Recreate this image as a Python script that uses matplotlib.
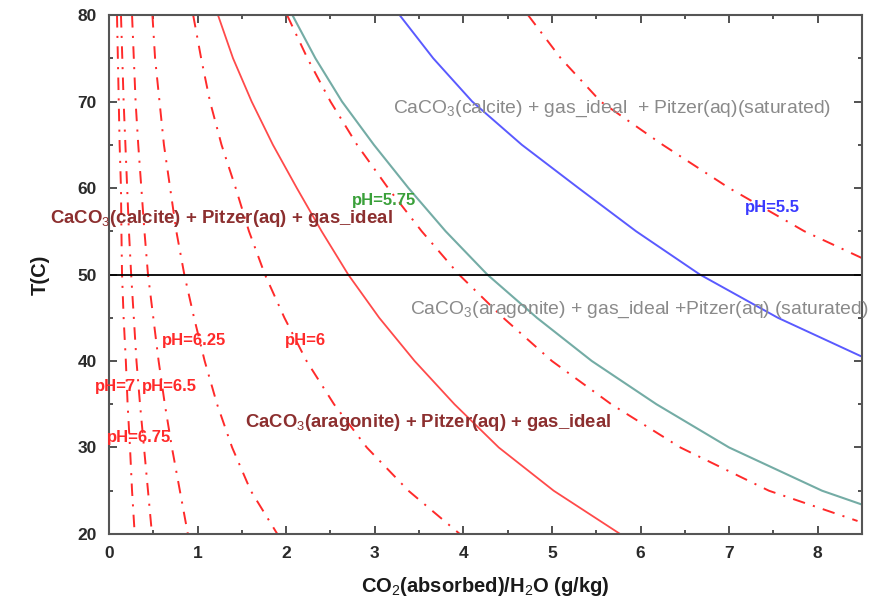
import matplotlib
matplotlib.use("Agg")
import matplotlib.pyplot as plt
from matplotlib.ticker import MultipleLocator

plt.rcParams["font.family"] = ["Liberation Sans", "DejaVu Sans"]
plt.rcParams["mathtext.fontset"] = "custom"
plt.rcParams["mathtext.rm"] = "Liberation Sans"
plt.rcParams["mathtext.it"] = "Liberation Sans"
plt.rcParams["mathtext.bf"] = "Liberation Sans:bold"
plt.rcParams["lines.scale_dashes"] = False

# Isopleths: CO2 absorbed (g/kg H2O) versus temperature (C)
T_full = [80, 75, 70, 65, 60, 55, 50, 45, 40, 35, 30, 25, 20]
ph70_x = [0.09, 0.10, 0.11, 0.12, 0.135, 0.14, 0.147, 0.165, 0.19, 0.21, 0.237, 0.26, 0.29]
ph675_x = [0.135, 0.15, 0.165, 0.185, 0.205, 0.225, 0.25, 0.28, 0.31, 0.35, 0.395, 0.44, 0.485]
ph65_x = [0.26, 0.28, 0.30, 0.33, 0.365, 0.40, 0.44, 0.50, 0.56, 0.63, 0.71, 0.80, 0.89]
ph625_x = [0.49, 0.52, 0.57, 0.62, 0.69, 0.76, 0.85, 0.96, 1.08, 1.22, 1.39, 1.60, 1.90]
ph60_x = [0.95, 1.04, 1.14, 1.27, 1.43, 1.58, 1.76, 1.98, 2.23, 2.54, 2.91, 3.38, 3.96]

ph575_T = [80, 75, 70, 65, 60, 55, 50, 45, 40, 35, 30, 25, 21.5]
ph575_x = [2.01, 2.24, 2.5, 2.8, 3.15, 3.53, 3.95, 4.45, 5.0, 5.67, 6.45, 7.45, 8.45]

ph55_T = [80, 75, 70, 65, 60, 55, 51.9]
ph55_x = [4.73, 5.1, 5.55, 6.25, 7.0, 7.85, 8.5]

# Phase boundaries (solid)
aragonite_sat_x = [1.23, 1.40, 1.61, 1.85, 2.12, 2.40, 2.70, 3.05, 3.45, 3.90, 4.40, 5.02, 5.77]
teal_T = [80, 75, 70, 65, 60, 55, 50, 45, 40, 35, 30, 25, 23.4]
teal_x = [2.07, 2.33, 2.63, 2.99, 3.38, 3.80, 4.27, 4.83, 5.45, 6.18, 7.0, 8.05, 8.5]
blue_T = [80, 75, 70, 65, 60, 55, 50, 45, 40.5]
blue_x = [3.28, 3.66, 4.1, 4.66, 5.3, 5.95, 6.67, 7.55, 8.5]

calcite_aragonite_T = 50

x_ticks = [0, 1, 2, 3, 4, 5, 6, 7, 8]
y_ticks = [20, 30, 40, 50, 60, 70, 80]

fig = plt.figure(figsize=(8.95, 6.02), dpi=100)
ax = fig.add_axes([0.1218, 0.113, 0.8413, 0.862])

red = "#ff2a2a"
dashdot = (0, (9, 6, 1.5, 6))
for xs in (ph70_x, ph675_x, ph65_x, ph625_x, ph60_x):
    ax.plot(xs, T_full, color=red, lw=1.4, linestyle=dashdot)
ax.plot(ph575_x, ph575_T, color=red, lw=1.4, linestyle=dashdot)
ax.plot(ph55_x, ph55_T, color=red, lw=1.4, linestyle=dashdot)

ax.plot(aragonite_sat_x, T_full, color="#ff4a4a", lw=1.3)
ax.plot(teal_x, teal_T, color="#74aca5", lw=1.5)
ax.plot(blue_x, blue_T, color="#5a5aff", lw=1.4)

ax.axhline(calcite_aragonite_T, color="black", lw=1.3)

ax.set_xlim(0, 8.5)
ax.set_ylim(20, 80)
ax.set_xticks(x_ticks)
ax.set_yticks(y_ticks)
ax.xaxis.set_minor_locator(MultipleLocator(0.5))
ax.yaxis.set_minor_locator(MultipleLocator(5))
ax.tick_params(which="both", direction="in", top=True, right=True,
               color="#333333", width=1.2)
ax.tick_params(which="major", length=6, labelsize=12.5, pad=9,
               labelcolor="#2a2a2a")
ax.tick_params(which="minor", length=3)
for lab in ax.get_xticklabels() + ax.get_yticklabels():
    lab.set_fontweight("bold")
for s in ax.spines.values():
    s.set_color("#555555")
    s.set_linewidth(1.5)

ax.set_xlabel("CO$_2$(absorbed)/H$_2$O (g/kg)", fontsize=14.5,
              fontweight="bold", color="#1a1a1a", labelpad=10)
ax.set_ylabel("T(C)", fontsize=14.5, fontweight="bold", color="#1a1a1a",
              labelpad=20)

gray = "#8a8a8a"
dark = "#8c2f2f"
ax.text(3.21, 69.2, "CaCO$_3$(calcite) + gas_ideal  + Pitzer(aq)(saturated)",
        color=gray, fontsize=13.9, va="center", ha="left")
ax.text(3.40, 45.9, "CaCO$_3$(aragonite) + gas_ideal +Pitzer(aq) (saturated)",
        color=gray, fontsize=13.9, va="center", ha="left")
ax.text(-0.67, 56.5, "CaCO$_3$(calcite) + Pitzer(aq) + gas_ideal",
        color=dark, fontsize=13.4, fontweight="bold", va="center", ha="left",
        clip_on=False)
ax.text(1.53, 32.9, "CaCO$_3$(aragonite) + Pitzer(aq) + gas_ideal",
        color=dark, fontsize=13.3, fontweight="bold", va="center", ha="left")

ph_labels = ["pH=7", "pH=6.5", "pH=6.25", "pH=6", "pH=6.75"]
ph_label_x = [-0.16, 0.37, 0.60, 1.99, -0.02]
ph_label_T = [37.0, 37.0, 42.4, 42.4, 31.1]
for s, lx, lt in zip(ph_labels, ph_label_x, ph_label_T):
    ax.text(lx, lt, s, color=red, fontsize=12, fontweight="bold",
            va="center", ha="left", clip_on=False)
ax.text(2.74, 58.6, "pH=5.75", color="#3aa03a", fontsize=12,
        fontweight="bold", va="center", ha="left")
ax.text(7.18, 57.8, "pH=5.5", color="#3a3aff", fontsize=12,
        fontweight="bold", va="center", ha="left")

fig.savefig("out.png", dpi=100)
